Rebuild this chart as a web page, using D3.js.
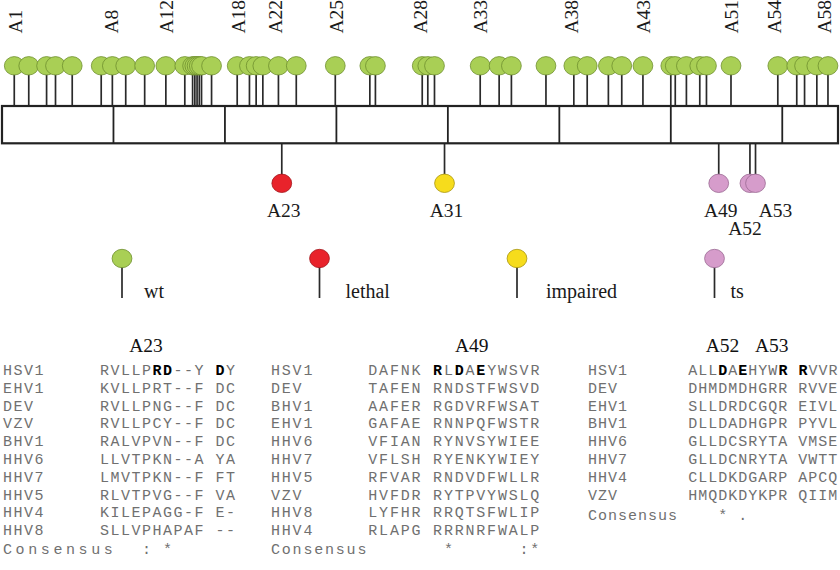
<!DOCTYPE html>
<html><head><meta charset="utf-8">
<script src="https://cdn.jsdelivr.net/npm/d3@7"></script>
<style>
html,body{margin:0;padding:0;background:#fff;}
svg{display:block;}
.mono{font-family:'Liberation Mono','Courier New',monospace;white-space:pre;}
.serif{font-family:'Liberation Serif','Times New Roman',serif;}
</style></head>
<body><svg id="chart" width="840" height="570"></svg>
<script>
// ---------------- DATA ----------------
const proteinLength = 750;
const segmentBreaks = [100, 200, 300, 400, 500, 600, 700];

// wild-type (wt) mutant sites, residue positions (above the bar)
const wtSites = [11, 24, 40, 48, 63, 89, 99, 111, 128, 147, 164, 171, 173, 175, 177, 179, 188,
  211, 222, 228, 234, 248, 264, 299, 330, 335, 377, 382, 388, 429, 446, 457, 488, 513, 525,
  544, 556, 575, 600, 604, 614, 626, 632, 654, 696, 713, 720, 731, 741];

// labels on top of the bar
const topLabelNames = ['A1', 'A8', 'A12', 'A18', 'A22', 'A25', 'A28', 'A33', 'A38', 'A43', 'A51', 'A54', 'A58'];
const topLabelSites = [12, 98, 147, 212, 245, 300, 375, 429, 511, 575, 654, 693, 738];

// mutants with a phenotype (below the bar)
const mutantNames = ['A23', 'A31', 'A49', 'A52', 'A53'];
const mutantSites = [251, 397, 643, 671, 676];
const mutantPhenotypes = ['lethal', 'impaired', 'ts', 'ts', 'ts'];

// legend
const legendPhenotypes = ['wt', 'lethal', 'impaired', 'ts'];

// alignment A23
const a23Viruses = ['HSV1', 'EHV1', 'DEV', 'VZV', 'BHV1', 'HHV6', 'HHV7', 'HHV5', 'HHV4', 'HHV8'];
const a23Seqs = ['RVLLPRD--Y DY', 'KVLLPRT--F DC', 'RVLLPNG--F DC', 'RVLLPCY--F DC', 'RALVPVN--F DC',
  'LLVTPKN--A YA', 'LMVTPKN--F FT', 'RLVTPVG--F VA', 'KILEPAGG-F E-', 'SLLVPHAPAF --'];
const a23Bold = [5, 6, 11];
const a23Consensus = '    : *';

// alignment A49
const a49Viruses = ['HSV1', 'DEV', 'BHV1', 'EHV1', 'HHV6', 'HHV7', 'HHV5', 'VZV', 'HHV8', 'HHV4'];
const a49Seqs = ['DAFNK RLDAEYWSVR', 'TAFEN RNDSTFWSVD', 'AAFER RGDVRFWSAT', 'GAFAE RNNPQFWSTR',
  'VFIAN RYNVSYWIEE', 'VFLSH RYENKYWIEY', 'RFVAR RNDVDFWLLR', 'HVFDR RYTPVYWSLQ',
  'LYFHR RRQTSFWLIP', 'RLAPG RRRNRFWALP'];
const a49Bold = [6, 8, 10];
const a49Consensus = '       *      :*';

// alignment A52 / A53
const a52Viruses = ['HSV1', 'DEV', 'EHV1', 'BHV1', 'HHV6', 'HHV7', 'HHV4', 'VZV'];
const a52Seqs = ['ALLDAEHYWR RVVR', 'DHMDMDHGRR RVVE', 'SLLDRDCGQR EIVL', 'DLLDADHGPR PYVL',
  'GLLDCSRYTA VMSE', 'GLLDCNRYTA VWTT', 'CLLDKDGARP APCQ', 'HMQDKDYKPR QIIM'];
const a52Bold = [3, 5, 9, 11];
const a52Consensus = '   * .';

// ---------------- LAYOUT / STYLE ----------------
const svg = d3.select('#chart');
const x = d3.scaleLinear().domain([0, proteinLength]).range([2, 838]);
const boxTop = 106, boxBottom = 143.3;
const topPinY = 65.8, bottomPinY = 183.3, pinRx = 9.9, pinRy = 9.2;
const colors = {
  wt: {fill: '#a9cf55', stroke: '#6f8f2e'},
  lethal: {fill: '#e8232b', stroke: '#a3141a'},
  impaired: {fill: '#f6dc1c', stroke: '#a89510'},
  ts: {fill: '#d69ccb', stroke: '#9a6a93'}
};
const stemColor = '#2a2a2a';

// top stems + pins
const gTop = svg.append('g');
gTop.selectAll('line').data(wtSites).join('line')
  .attr('x1', d => x(d)).attr('x2', d => x(d))
  .attr('y1', topPinY).attr('y2', boxTop)
  .attr('stroke', stemColor).attr('stroke-width', 1.7);
gTop.selectAll('ellipse').data(wtSites).join('ellipse')
  .attr('cx', d => x(d)).attr('cy', topPinY)
  .attr('rx', pinRx).attr('ry', pinRy)
  .attr('fill', colors.wt.fill).attr('stroke', colors.wt.stroke).attr('stroke-width', 0.8);

// top labels
svg.append('g').selectAll('text').data(topLabelNames).join('text')
  .attr('class', 'serif')
  .attr('transform', (d, i) => `translate(${x(topLabelSites[i])},33.5) rotate(-90)`)
  .attr('dy', '0.35em')
  .attr('font-size', 19.5).attr('fill', '#1a1a1a')
  .text(d => d);

// bottom stems + pins
const gBot = svg.append('g');
gBot.selectAll('line').data(mutantSites).join('line')
  .attr('x1', d => x(d)).attr('x2', d => x(d))
  .attr('y1', boxBottom).attr('y2', bottomPinY)
  .attr('stroke', stemColor).attr('stroke-width', 1.7);
gBot.selectAll('ellipse').data(mutantSites).join('ellipse')
  .attr('cx', d => x(d)).attr('cy', bottomPinY)
  .attr('rx', pinRx).attr('ry', pinRy)
  .attr('fill', (d, i) => colors[mutantPhenotypes[i]].fill)
  .attr('stroke', (d, i) => colors[mutantPhenotypes[i]].stroke).attr('stroke-width', 0.8);
const labelShift = {A52: {dx: -5, dy: 18}, A53: {dx: 20, dy: 0}};
gBot.selectAll('text').data(mutantNames).join('text')
  .attr('class', 'serif')
  .attr('x', (d, i) => x(mutantSites[i]) + (labelShift[d] ? labelShift[d].dx : 2))
  .attr('y', (d, i) => 217.3 + (labelShift[d] ? labelShift[d].dy : 0))
  .attr('text-anchor', 'middle').attr('font-size', 19.5).attr('fill', '#1a1a1a')
  .text(d => d);

// protein bar
const gBar = svg.append('g');
gBar.append('rect').attr('x', x(0)).attr('y', boxTop)
  .attr('width', x(proteinLength) - x(0)).attr('height', boxBottom - boxTop)
  .attr('fill', '#fff').attr('stroke', '#222').attr('stroke-width', 2.2);
gBar.selectAll('line').data(segmentBreaks).join('line')
  .attr('x1', d => x(d)).attr('x2', d => x(d))
  .attr('y1', boxTop).attr('y2', boxBottom)
  .attr('stroke', '#222').attr('stroke-width', 1.8);

// legend
const lx = d3.scaleLinear().domain([0, legendPhenotypes.length - 1]).range([122, 714.5]);
const legendTextDx = [22, 26, 29, 16];
const gLeg = svg.append('g');
const items = gLeg.selectAll('g').data(legendPhenotypes).join('g')
  .attr('transform', (d, i) => `translate(${lx(i)},0)`);
items.append('line').attr('x1', 0).attr('x2', 0).attr('y1', 258.5).attr('y2', 298)
  .attr('stroke', stemColor).attr('stroke-width', 1.7);
items.append('ellipse').attr('cx', 0).attr('cy', 258.5).attr('rx', pinRx).attr('ry', pinRy)
  .attr('fill', d => colors[d].fill).attr('stroke', d => colors[d].stroke).attr('stroke-width', 0.8);
items.append('text').attr('class', 'serif')
  .attr('x', (d, i) => legendTextDx[i]).attr('y', 298)
  .attr('font-size', 20).attr('fill', '#1a1a1a').text(d => d);

// alignments
const tables = [
  {titles: [{t: 'A23', cx: 146}], viruses: a23Viruses, seqs: a23Seqs, bold: a23Bold, cons: a23Consensus,
   nameX: 3, seqX: 100, adv: 10.5, consLabelSpacing: 3.6, consGap: 1},
  {titles: [{t: 'A49', cx: 471.7}], viruses: a49Viruses, seqs: a49Seqs, bold: a49Bold, cons: a49Consensus,
   nameX: 271, seqX: 368.3, adv: 10.8, consLabelSpacing: null, consGap: 1},
  {titles: [{t: 'A52', cx: 722.5}, {t: 'A53', cx: 771.7}], viruses: a52Viruses, seqs: a52Seqs, bold: a52Bold,
   cons: a52Consensus, nameX: 588, seqX: 688.3, adv: 10.0, consLabelSpacing: null, consGap: 3}
];
const monoSize = 15, monoAdv = 9.0; // Liberation Mono advance = 0.6em
const rowY0 = 375, rowStep = 17.8, textGray = '#707070';

tables.forEach(tb => {
  const g = svg.append('g');
  const ls = tb.adv - monoAdv;
  g.selectAll('text.title').data(tb.titles).join('text').attr('class', 'serif title')
    .attr('x', d => d.cx).attr('y', 351.7).attr('text-anchor', 'middle')
    .attr('font-size', 19.5).attr('fill', '#111').text(d => d.t);
  const rowY = d3.scaleLinear().domain([0, 1]).range([rowY0, rowY0 + rowStep]);
  g.selectAll('text.name').data(tb.viruses).join('text').attr('class', 'mono name')
    .attr('x', tb.nameX).attr('y', (d, i) => rowY(i))
    .attr('font-size', monoSize).attr('letter-spacing', ls).attr('fill', textGray).text(d => d);
  g.selectAll('text.seq').data(tb.seqs).join('text').attr('class', 'mono seq')
    .attr('x', tb.seqX).attr('y', (d, i) => rowY(i))
    .attr('font-size', monoSize).attr('letter-spacing', ls).attr('fill', textGray)
    .each(function (s, i) {
      const t = d3.select(this);
      const runs = [];
      for (let k = 0; k < s.length; k++) {
        const b = i === 0 && tb.bold.includes(k);
        if (runs.length && runs[runs.length - 1].b === b) runs[runs.length - 1].s += s[k];
        else runs.push({b, s: s[k]});
      }
      runs.forEach(r => t.append('tspan').text(r.s)
        .attr('font-weight', r.b ? 'bold' : null).attr('fill', r.b ? '#000' : null));
    });
  const cy = rowY(tb.viruses.length) + tb.consGap;
  g.append('text').attr('class', 'mono').attr('x', tb.nameX).attr('y', cy)
    .attr('font-size', monoSize)
    .attr('letter-spacing', tb.consLabelSpacing != null ? tb.consLabelSpacing : ls)
    .attr('fill', textGray).text('Consensus');
  const lead = tb.cons.length - tb.cons.trimStart().length;
  g.append('text').attr('class', 'mono').attr('x', tb.seqX + lead * tb.adv).attr('y', cy)
    .attr('font-size', monoSize).attr('letter-spacing', ls).attr('fill', textGray)
    .text(tb.cons.trimStart());
});
</script>
</body></html>
